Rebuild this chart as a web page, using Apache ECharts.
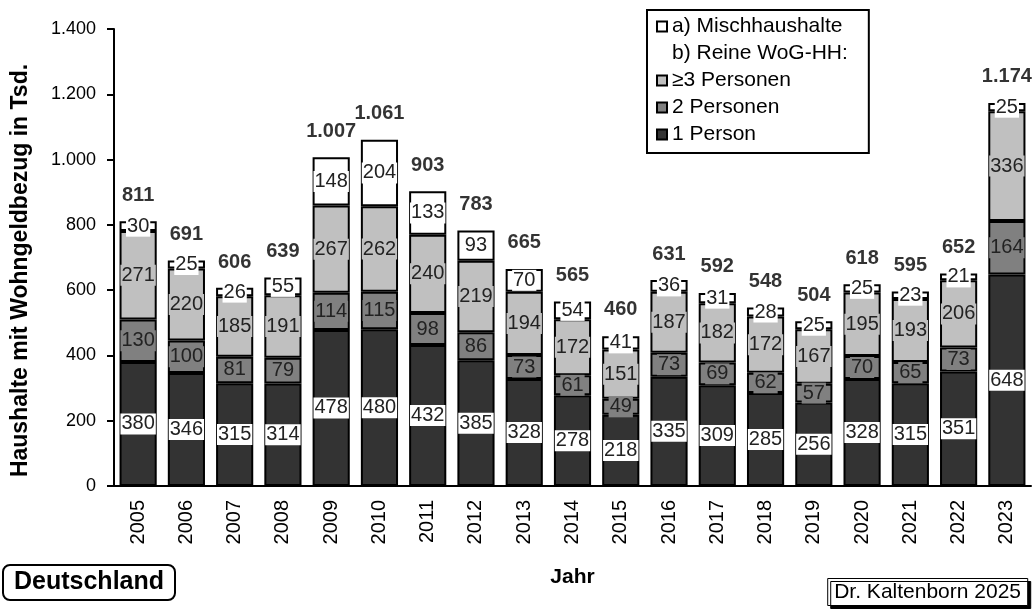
<!DOCTYPE html>
<html>
<head>
<meta charset="utf-8">
<script src="https://cdn.jsdelivr.net/npm/echarts@6/dist/echarts.min.js"></script>
<style>
    html, body { margin: 0; padding: 0; background: #fff; }
    #chart { width: 1033px; height: 612px; }
</style>
</head>
<body>
<div id="chart"></div>
<script>
// Wohngeld-Haushalte in Tsd., Deutschland
const years = ['2005', '2006', '2007', '2008', '2009', '2010', '2011', '2012', '2013', '2014',
    '2015', '2016', '2017', '2018', '2019', '2020', '2021', '2022', '2023']
const onePerson = [380, 346, 315, 314, 478, 480, 432, 385, 328, 278, 218, 335, 309, 285, 256, 328, 315, 351, 648]
const twoPersons = [130, 100, 81, 79, 114, 115, 98, 86, 73, 61, 49, 73, 69, 62, 57, 70, 65, 73, 164]
const threePlus = [271, 220, 185, 191, 267, 262, 240, 219, 194, 172, 151, 187, 182, 172, 167, 195, 193, 206, 336]
const mixed = [30, 25, 26, 55, 148, 204, 133, 93, 70, 54, 41, 36, 31, 28, 25, 25, 23, 21, 25]
const totals = [811, 691, 606, 639, 1007, 1061, 903, 783, 665, 565, 460, 631, 592, 548, 504, 618, 595, 652, 1174]

const FONT = 'Liberation Sans, Arial, sans-serif'

// 1.400 statt 1400
const fmt = v => v >= 1000 ? Math.floor(v / 1000) + '.' + String(v % 1000).padStart(3, '0') : String(v)

const segLabel = (bg) => ({
    show: true,
    position: 'inside',
    color: '#222',
    fontSize: 20,
    fontFamily: FONT,
    backgroundColor: bg,
    padding: [1, 1, 0, 1],
    formatter: p => p.value
})

const segment = (name, data, fill, labelBg) => ({
    name: name,
    type: 'bar',
    stack: 'hh',
    data: data,
    barCategoryGap: '23%',
    itemStyle: { color: fill, borderColor: '#000', borderWidth: 2 },
    label: segLabel(labelBg),
    emphasis: { disabled: true }
})

const chart = echarts.init(document.getElementById('chart'))
const option = {
    animation: false,
    textStyle: { fontFamily: FONT },
    title: [
        {
            text: 'Deutschland',
            left: 3, top: 565,
            padding: [5, 11, 5, 11],
            borderColor: '#000', borderWidth: 2, borderRadius: 7,
            textStyle: { fontSize: 25, fontWeight: 'bold', color: '#000', fontFamily: FONT }
        },
        {
            text: 'Dr. Kaltenborn 2025',
            right: 5, top: 578,
            padding: [4, 7, 3, 7],
            borderColor: '#000', borderWidth: 1,
            backgroundColor: '#fff',
            shadowColor: '#000', shadowOffsetX: 3, shadowOffsetY: 3, shadowBlur: 0,
            textStyle: { fontSize: 21, fontWeight: 'normal', color: '#000', fontFamily: FONT }
        }
    ],
    legend: {
        left: 647, top: 10,
        orient: 'vertical',
        itemWidth: 10, itemHeight: 10,
        itemGap: 6,
        padding: [6, 21, 8, 9],
        borderColor: '#000', borderWidth: 2,
        selectedMode: false,
        textStyle: { fontSize: 21, color: '#000', fontFamily: FONT },
        data: [
            { name: 'a) Mischhaushalte', icon: 'rect' },
            { name: 'b) Reine WoG-HH:', icon: 'rect', itemStyle: { color: 'rgba(0,0,0,0)', borderWidth: 0 } },
            { name: '≥3 Personen', icon: 'rect' },
            { name: '2 Personen', icon: 'rect' },
            { name: '1 Person', icon: 'rect' }
        ]
    },
    grid: { left: 114, right: 2, top: 29, bottom: 126 },
    xAxis: {
        type: 'category',
        data: years,
        name: 'Jahr',
        nameLocation: 'middle',
        nameGap: 81,
        nameTextStyle: { fontSize: 21, fontWeight: 'bold', color: '#000' },
        axisLine: { lineStyle: { color: '#000', width: 2 } },
        axisTick: { show: false },
        axisLabel: { rotate: 90, fontSize: 20, color: '#000', margin: 14 }
    },
    yAxis: {
        type: 'value',
        min: 0, max: 1400, interval: 200,
        name: 'Haushalte mit Wohngeldbezug in Tsd.',
        nameLocation: 'middle',
        nameGap: 82,
        nameTextStyle: { fontSize: 23, fontWeight: 'bold', color: '#000', padding: [0, 26, 0, 0] },
        axisLine: { show: true, lineStyle: { color: '#000', width: 2 } },
        axisTick: { show: true, length: 7, lineStyle: { color: '#000', width: 2 } },
        axisLabel: { fontSize: 18, color: '#000', margin: 18, formatter: fmt },
        splitLine: { show: false }
    },
    series: [
        segment('1 Person', onePerson, '#333333', '#fff'),
        segment('2 Personen', twoPersons, '#808080', '#808080'),
        segment('≥3 Personen', threePlus, '#c0c0c0', '#c0c0c0'),
        segment('a) Mischhaushalte', mixed, '#ffffff', '#fff'),
        { name: 'b) Reine WoG-HH:', type: 'bar', stack: 'hh', data: [] },
        {
            name: 'Summe',
            type: 'scatter',
            data: totals,
            symbolSize: 0,
            silent: true,
            label: {
                show: true,
                position: 'top',
                distance: 16,
                fontSize: 20,
                fontWeight: 'bold',
                color: '#000',
                fontFamily: FONT,
                formatter: p => fmt(p.value)
            }
        }
    ]
}
chart.setOption(option)
</script>
</body>
</html>
